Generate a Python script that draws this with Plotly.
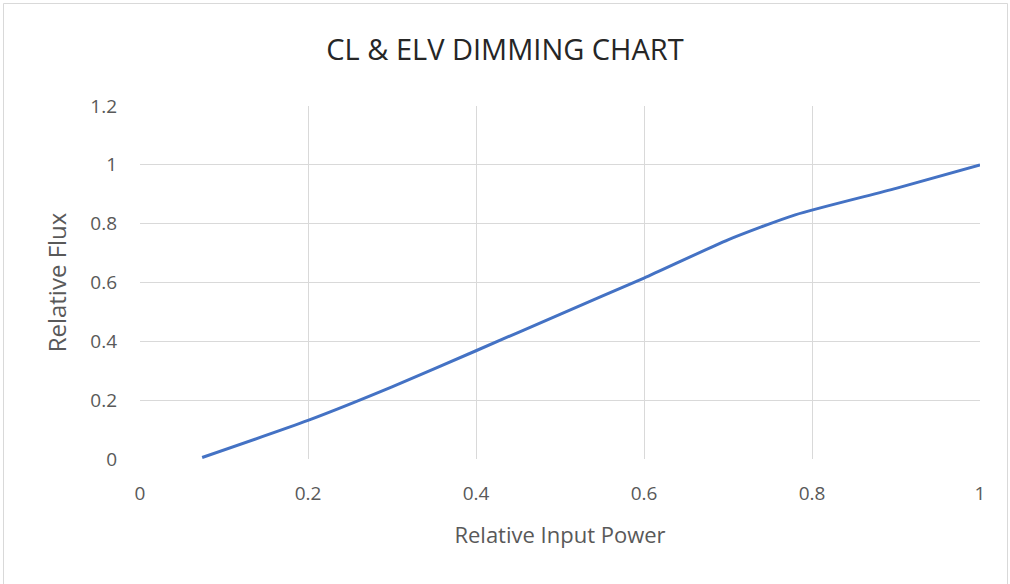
import plotly.graph_objects as go

power = [0.074, 0.2, 0.3, 0.4, 0.5, 0.6, 0.7, 0.78, 0.9, 1.0]
flux = [0.005, 0.131, 0.245, 0.368, 0.492, 0.615, 0.745, 0.83, 0.92, 1.0]

W, H = 1010, 584
L, R, T, B = 140, 30, 106, 125
FONT = "Open Sans"
GRID = "#d9d9d9"
TXT = "#595959"

fig = go.Figure()
fig.add_trace(go.Scatter(x=power, y=flux, mode="lines",
                         line=dict(color="#4472c4", width=3, shape="spline", smoothing=0.6),
                         hoverinfo="skip", showlegend=False))

pw = W - L - R
ph = H - T - B
fig.add_shape(type="rect", xref="paper", yref="paper",
              x0=(3.5 - L) / pw, x1=(W - 2.5 - L) / pw,
              y0=-(B + 3) / ph, y1=(H - 3.5 - B) / ph,
              line=dict(color="#d9d9d9", width=1), layer="below")

fig.update_layout(
    width=W, height=H,
    margin=dict(l=L, r=R, t=T, b=B),
    paper_bgcolor="white", plot_bgcolor="white",
    font=dict(family=FONT, color=TXT, size=19),
    title=dict(text="CL & ELV DIMMING CHART", x=0.5, xanchor="center",
               y=1 - 50 / H, yanchor="middle",
               font=dict(family=FONT, size=29, color="#262626")),
    xaxis=dict(range=[0, 1], dtick=0.2, tick0=0, showgrid=True, gridcolor=GRID, gridwidth=1,
               zeroline=False, showline=False, ticks="", ticklabelstandoff=21,
               tickformat="~g",
               title=dict(text="Relative Input Power", font=dict(family=FONT, size=22, color=TXT), standoff=22),
               fixedrange=True),
    yaxis=dict(range=[0, 1.2], dtick=0.2, tick0=0, showgrid=True, gridcolor=GRID, gridwidth=1,
               zeroline=False, showline=False, ticks="", ticklabelstandoff=22,
               tickformat="~g",
               title=dict(text="Relative Flux", font=dict(family=FONT, size=24, color=TXT), standoff=16),
               fixedrange=True),
)

fig.write_html("out.html", config={"displayModeBar": False},
               post_script="document.body.style.margin='0';document.body.style.overflow='hidden';")
